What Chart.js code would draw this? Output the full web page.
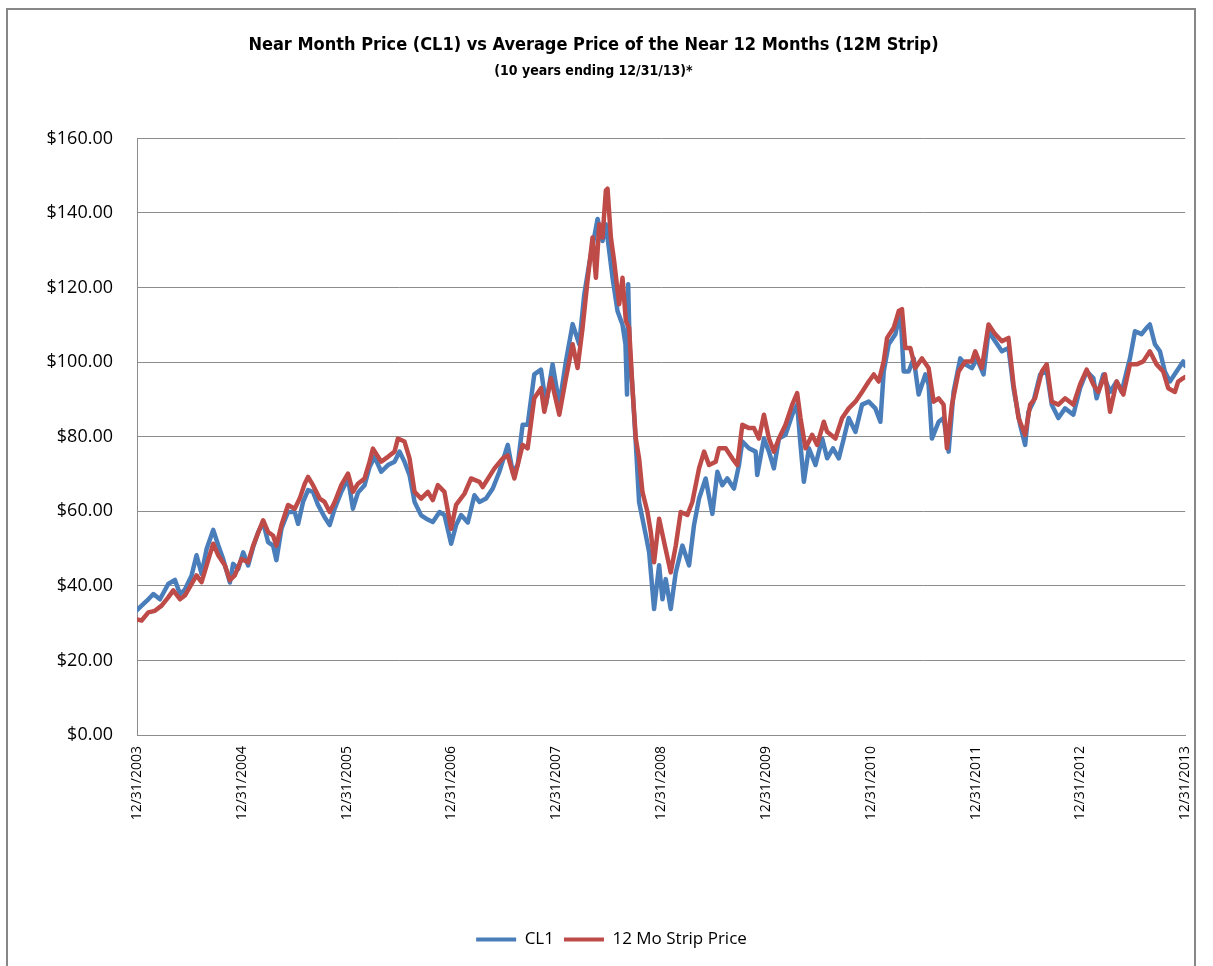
<!DOCTYPE html>
<html>
<head>
<meta charset="utf-8">
<title>CL1 vs 12M Strip</title>
<script src="https://cdn.jsdelivr.net/npm/chart.js@4.4.1/dist/chart.umd.min.js"></script>
<style>
  html, body { margin: 0; padding: 0; background: #fff; width: 1213px; height: 966px; overflow: hidden; }
  #marco { position: absolute; left: 6px; top: 8px; width: 1190px; height: 1000px; border: 2px solid #878787; box-sizing: border-box; }
  #wrap { position: absolute; left: 0; top: 0; width: 1213px; height: 966px; }
</style>
</head>
<body>
<div id="marco"></div>
<div id="wrap"><canvas id="chart-precios" width="1213" height="966"></canvas></div>
<script>
// Etiquetas del eje X (una por año, al cierre del 31/12)
var etiquetasX = ['12/31/2003', '12/31/2004', '12/31/2005', '12/31/2006', '12/31/2007', '12/31/2008',
                  '12/31/2009', '12/31/2010', '12/31/2011', '12/31/2012', '12/31/2013'];

// CL1: fecha en años desde 12/31/2003 y precio
var fechasCL1 = [0, 0.044, 0.108, 0.156, 0.219, 0.298, 0.362, 0.410, 0.457, 0.521, 0.568, 0.616, 0.664, 0.727, 0.775, 0.822, 0.886, 0.917, 0.965,
  1.013, 1.060, 1.108, 1.156, 1.203, 1.251, 1.298, 1.330, 1.378, 1.441, 1.505, 1.537, 1.584, 1.632, 1.679, 1.727, 1.790, 1.838, 1.886, 1.949,
  2.013, 2.060, 2.108, 2.171, 2.219, 2.267, 2.330, 2.394, 2.457, 2.505, 2.552, 2.600, 2.648, 2.711, 2.759, 2.822, 2.886, 2.933, 2.997,
  3.044, 3.092, 3.156, 3.219, 3.267, 3.330, 3.394, 3.457, 3.537, 3.584, 3.632, 3.679, 3.727, 3.790, 3.854, 3.902, 3.965,
  4.029, 4.092, 4.156, 4.219, 4.267, 4.314, 4.394, 4.441, 4.473, 4.505, 4.537, 4.584, 4.632, 4.660, 4.675, 4.686, 4.700, 4.727, 4.759, 4.790, 4.854, 4.886, 4.933, 4.981,
  5.013, 5.044, 5.092, 5.140, 5.203, 5.267, 5.314, 5.362, 5.425, 5.489, 5.537, 5.584, 5.632, 5.695, 5.743, 5.775, 5.838, 5.902, 5.917, 5.981,
  6.029, 6.076, 6.124, 6.187, 6.251, 6.298, 6.330, 6.362, 6.410, 6.473, 6.537, 6.584, 6.640, 6.695, 6.743, 6.790, 6.854, 6.917, 6.981,
  7.044, 7.092, 7.124, 7.171, 7.235, 7.283, 7.314, 7.362, 7.410, 7.457, 7.521, 7.552, 7.584, 7.648, 7.695, 7.743, 7.790, 7.854, 7.902, 7.965,
  8.013, 8.076, 8.124, 8.187, 8.251, 8.314, 8.362, 8.425, 8.473, 8.505, 8.552, 8.616, 8.679, 8.727, 8.790, 8.854, 8.933, 8.997,
  9.060, 9.124, 9.155, 9.219, 9.283, 9.346, 9.394, 9.441, 9.473, 9.521, 9.584, 9.632, 9.663, 9.711, 9.759, 9.806, 9.854, 9.917, 9.981, 10];
var preciosCL1 = [33.5, 34.7, 36.4, 37.8, 36.4, 40.5, 41.6, 37.8, 39, 42.8, 48.2, 43.2, 49.9, 55, 50.9, 47.2, 40.9, 45.9, 44.5,
  49, 45.5, 50.4, 54.4, 57.1, 51.7, 50.8, 46.9, 55.3, 59.8, 59.8, 56.6, 62.5, 65.7, 65.2, 61.7, 58.4, 56.3, 60.7, 65.2,
  68.8, 60.7, 65, 67, 71.9, 74.6, 70.6, 72.4, 73.3, 76, 73.3, 69.7, 62.5, 58.9, 58, 57.1, 59.8, 59, 51.3,
  56.3, 59, 57, 64.3, 62.5, 63.4, 66.1, 70.6, 77.8, 70.6, 72.4, 83.2, 83.2, 96.7, 98, 88.6, 99.4,
  88.6, 100.2, 110.2, 104.8, 118.2, 126.3, 138.4, 132.5, 137, 129.8, 122.6, 113.7, 110, 104.8, 91.3, 120.9, 104, 93, 78, 62.5, 53.6, 49, 33.8, 45.5,
  36.4, 41.8, 33.8, 43.6, 50.8, 45.5, 56.3, 63.4, 68.8, 59.3, 70.6, 67, 68.8, 66.1, 72.4, 78.7, 76.9, 76, 69.7, 79.5,
  76, 71.5, 79.5, 80.5, 85.9, 88.6, 77.8, 67.9, 76.9, 72.4, 79.5, 74.2, 76.9, 74.2, 79.5, 85, 81.3, 88.6, 89.4,
  87.6, 84, 97.5, 104.8, 107.5, 113.7, 97.5, 97.5, 101, 91.3, 96.7, 94, 79.5, 84, 85, 76, 92, 101, 99.4, 98.4,
  101, 96.7, 108.3, 105.6, 102.9, 103.8, 93, 83.2, 77.8, 86.7, 89.4, 96.7, 97.5, 88.6, 85, 87.6, 85.9, 93,
  97.5, 95.7, 90.3, 96.7, 92, 94.8, 92, 97.5, 101, 108.3, 107.5, 109.2, 110.1, 104.8, 102.9, 97.5, 94.8, 97.5, 100.2, 99];

// Promedio de los 12 meses siguientes (12M Strip)
var fechasStrip = [0, 0.044, 0.108, 0.171, 0.235, 0.298, 0.346, 0.410, 0.457, 0.521, 0.568, 0.616, 0.664, 0.727, 0.775, 0.838, 0.886, 0.933, 0.997,
  1.060, 1.108, 1.171, 1.203, 1.251, 1.298, 1.330, 1.378, 1.441, 1.505, 1.552, 1.600, 1.632, 1.679, 1.743, 1.790, 1.838, 1.886, 1.949,
  2.013, 2.060, 2.108, 2.171, 2.219, 2.251, 2.330, 2.394, 2.457, 2.489, 2.552, 2.600, 2.648, 2.711, 2.775, 2.822, 2.870, 2.933, 2.997,
  3.044, 3.124, 3.187, 3.267, 3.298, 3.410, 3.489, 3.537, 3.600, 3.679, 3.727, 3.790, 3.854, 3.886, 3.949,
  4.029, 4.092, 4.156, 4.203, 4.251, 4.298, 4.346, 4.378, 4.410, 4.441, 4.473, 4.489, 4.521, 4.552, 4.600, 4.632, 4.664, 4.695, 4.727, 4.759, 4.790, 4.822, 4.870, 4.902, 4.933, 4.981,
  5.029, 5.092, 5.140, 5.187, 5.251, 5.298, 5.362, 5.410, 5.457, 5.521, 5.552, 5.616, 5.679, 5.727, 5.775, 5.838, 5.886, 5.933, 5.981,
  6.029, 6.076, 6.124, 6.187, 6.251, 6.298, 6.330, 6.378, 6.441, 6.489, 6.552, 6.584, 6.663, 6.727, 6.790, 6.854, 6.917, 6.981,
  7.029, 7.076, 7.124, 7.156, 7.219, 7.267, 7.298, 7.330, 7.378, 7.425, 7.489, 7.552, 7.600, 7.648, 7.695, 7.727, 7.775, 7.838, 7.902, 7.965, 7.997,
  8.060, 8.124, 8.187, 8.251, 8.314, 8.362, 8.410, 8.473, 8.521, 8.568, 8.632, 8.679, 8.727, 8.790, 8.854, 8.933, 8.997,
  9.060, 9.124, 9.171, 9.235, 9.283, 9.346, 9.410, 9.473, 9.537, 9.600, 9.663, 9.727, 9.790, 9.838, 9.902, 9.933, 9.981, 10];
var preciosStrip = [31, 30.7, 32.9, 33.3, 34.7, 36.9, 38.8, 36.4, 37.4, 40.5, 42.8, 41, 45.5, 51.3, 48.2, 45.5, 41.5, 42.8, 47.2,
  46.3, 50.8, 55.3, 57.6, 54.4, 53.5, 50.8, 56.3, 61.7, 60.7, 63.4, 67.4, 69.2, 67, 63.4, 62.5, 59.8, 62.5, 67,
  70.1, 65.2, 67.4, 68.8, 73.3, 76.8, 73.3, 74.6, 76, 79.5, 78.7, 74.2, 65.2, 63.4, 65.2, 63, 67, 65.2, 55.3,
  61.7, 64.7, 68.8, 67.9, 66.5, 71.5, 74.2, 75, 68.8, 77.8, 76.9, 90.3, 93, 86.7, 95.7,
  85.9, 95.7, 104.8, 98.4, 109.2, 121.8, 133.4, 122.6, 137, 133.4, 146, 146.5, 133.4, 127.1, 115.5, 122.6, 111, 109.2, 93, 79.5, 74.2, 65.2, 59.8, 54.4, 46.3, 58,
  51.7, 43.6, 50.8, 59.8, 59, 62.5, 71.5, 76, 72.4, 73.3, 76.9, 76.9, 74.2, 72.4, 83.2, 82.3, 82.3, 79.5, 85.9,
  79.5, 76, 79.5, 83.2, 88.6, 91.7, 85, 76.9, 80.5, 77.8, 84, 81.3, 79.5, 85, 87.6, 89.4, 92, 94.8,
  96.7, 94.8, 100.2, 106.5, 109.2, 113.7, 114.2, 103.8, 103.8, 98.4, 101, 98.4, 89.4, 90.3, 88.6, 76.9, 88.6, 97.5, 100.2, 100.2, 102.9,
  98.4, 110.1, 107.5, 105.6, 106.5, 94, 85, 80.5, 88.6, 90.3, 97.5, 99.4, 89.4, 88.6, 90.3, 88.6, 94,
  98, 94, 92, 96.7, 86.7, 94.8, 91.3, 99.4, 99.4, 100.2, 102.9, 99.4, 97.5, 93, 92, 94.8, 95.7, 96];

var AZUL = '#4a7ebb';
var ROJO = '#be4b48';
var GRIS = '#8c8c8c';

// Une fechas y precios en puntos {x, y}
function armarPuntos(fechas, precios) {
  return fechas.map(function(f, i) { return { x: f, y: precios[i] }; });
}

// Corre la leyenda un poco a la derecha, como en el original
var moverLeyenda = {
  id: 'moverLeyenda',
  afterLayout: function(chart) {
    if (chart.legend) {
      chart.legend.left += 18;
      chart.legend.right += 18;
    }
  }
};

var ctx = document.getElementById('chart-precios');

new Chart(ctx, {
  type: 'line',
  data: {
    datasets: [{
      label: 'CL1',
      data: armarPuntos(fechasCL1, preciosCL1),
      borderColor: AZUL,
      backgroundColor: AZUL,
      borderWidth: 4.5,
      borderJoinStyle: 'round',
      borderCapStyle: 'round',
      pointRadius: 0,
      tension: 0,
      order: 2   // debajo de la línea roja
    }, {
      label: '12 Mo Strip Price',
      data: armarPuntos(fechasStrip, preciosStrip),
      borderColor: ROJO,
      backgroundColor: ROJO,
      borderWidth: 4.5,
      borderJoinStyle: 'round',
      borderCapStyle: 'round',
      pointRadius: 0,
      tension: 0,
      order: 1
    }]
  },
  plugins: [moverLeyenda],
  options: {
    responsive: false,
    animation: false,
    layout: {
      padding: { left: 0, right: 26, top: 0, bottom: 8 }
    },
    plugins: {
      title: {
        display: true,
        text: 'Near Month Price (CL1) vs Average Price of the Near 12 Months (12M Strip)',
        color: '#000',
        font: { family: "'Liberation Sans Narrow', 'DejaVu Sans Condensed', sans-serif", size: 18, weight: 'bold' },
        padding: { top: 35, bottom: 4 }
      },
      subtitle: {
        display: true,
        text: '(10 years ending 12/31/13)*',
        color: '#000',
        font: { family: "'Liberation Sans Narrow', 'DejaVu Sans Condensed', sans-serif", size: 14, weight: 'bold' },
        padding: { top: 2, bottom: 59 }
      },
      legend: {
        position: 'bottom',
        labels: {
          color: '#000',
          font: { family: "'Open Sans', sans-serif", size: 17 },
          boxWidth: 40,
          boxHeight: 4,
          padding: 10,
          // mismo orden que los datasets aunque el rojo se dibuje encima
          sort: function(a, b) { return a.datasetIndex - b.datasetIndex; },
          generateLabels: function(chart) {
            var items = Chart.defaults.plugins.legend.labels.generateLabels(chart);
            items.forEach(function(it) {
              it.fillStyle = it.strokeStyle;
              it.lineWidth = 0;
            });
            return items;
          }
        }
      },
      tooltip: { enabled: false }
    },
    scales: {
      x: {
        type: 'linear',
        min: 0,
        max: 10,
        afterFit: function(scale) { scale.height = 186; },
        afterBuildTicks: function(scale) {
          scale.ticks = etiquetasX.map(function(e, i) { return { value: i }; });
        },
        ticks: {
          autoSkip: false,
          minRotation: 90,
          maxRotation: 90,
          padding: 11,
          color: '#000',
          font: { family: "'Open Sans', sans-serif", size: 14 },
          callback: function(value) { return etiquetasX[value]; }
        },
        grid: { display: false, drawTicks: false },
        border: { display: true, color: GRIS, width: 1 }
      },
      y: {
        min: 0,
        max: 160,
        afterFit: function(scale) { scale.width = 137; },
        ticks: {
          stepSize: 20,
          padding: 24,
          color: '#000',
          font: { family: "'Open Sans', sans-serif", size: 18 },
          callback: function(value) { return '$' + value.toFixed(2); }
        },
        grid: { color: GRIS, lineWidth: 1, drawTicks: false },
        border: { display: true, color: GRIS, width: 1 }
      }
    }
  }
});
</script>
</body>
</html>
